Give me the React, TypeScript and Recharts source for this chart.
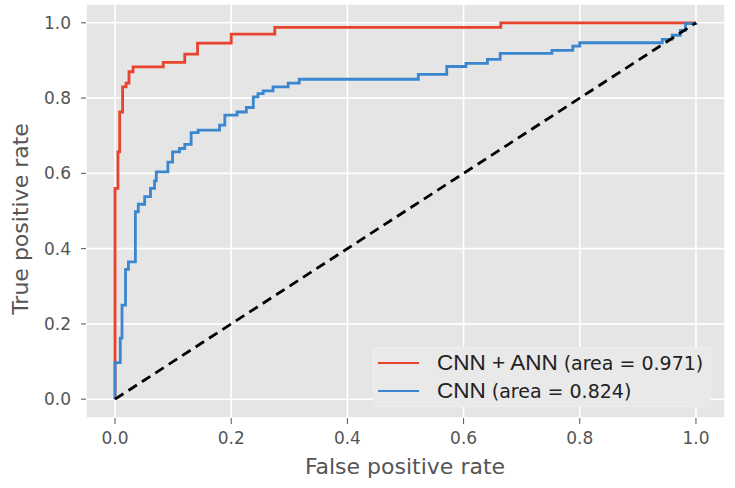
import { LineChart, Line, XAxis, YAxis, CartesianGrid, Legend } from "recharts";

if (typeof document !== "undefined") document.body.style.margin = "0";

// ROC points (fpr, tpr) – step corners
const cnnAnnFpr = [0, 0, 0.005, 0.008, 0.013, 0.019, 0.024, 0.031, 0.083, 0.12, 0.142, 0.2, 0.275, 0.664, 1];
const cnnAnnTpr = [0, 0.56, 0.657, 0.763, 0.83, 0.84, 0.87, 0.883, 0.895, 0.917, 0.946, 0.97, 0.988, 1, 1];

const cnnFpr = [
    0, 0, 0.009, 0.012, 0.018, 0.023, 0.035, 0.04, 0.051, 0.061, 0.068, 0.071, 0.091, 0.099,
    0.111, 0.12, 0.131, 0.143, 0.18, 0.189, 0.21, 0.226, 0.238, 0.246, 0.255, 0.272, 0.298,
    0.317, 0.522, 0.571, 0.604, 0.641, 0.663, 0.752, 0.788, 0.8, 0.942, 0.959, 0.973, 0.982, 1,
];
const cnnTpr = [
    0, 0.097, 0.162, 0.25, 0.345, 0.365, 0.498, 0.518, 0.538, 0.56, 0.58, 0.604, 0.63, 0.657,
    0.666, 0.677, 0.708, 0.715, 0.728, 0.755, 0.763, 0.775, 0.803, 0.812, 0.819, 0.83, 0.84,
    0.85, 0.863, 0.884, 0.892, 0.903, 0.919, 0.927, 0.938, 0.947, 0.956, 0.967, 0.98, 0.998, 1,
];

const chanceFpr = [0, 1];
const chanceTpr = [0, 1];

const modelNames = ["CNN + ANN", "CNN"];
const modelAucs = [0.971, 0.824];
const modelColors = ["#E8432E", "#3A86CF"];

const ticks = [0, 0.2, 0.4, 0.6, 0.8, 1.0];

const zip = (xs: number[], ys: number[]) => xs.map((x, i) => ({ x, y: ys[i] }));

const cnnAnnData = zip(cnnAnnFpr, cnnAnnTpr);
const cnnData = zip(cnnFpr, cnnTpr);
const chanceData = zip(chanceFpr, chanceTpr);

const tickStyle = { fill: "#555555", fontSize: 17, fontFamily: "DejaVu Sans" };
const labelFont = { fill: "#555555", fontSize: 22, fontFamily: "DejaVu Sans" };

function RocLegend() {
    return (
        <div
            style={{
                width: 338,
                height: 60,
                background: "#e9e9e9",
                border: "1px solid #efefef",
                borderRadius: 3,
                boxSizing: "border-box",
                paddingTop: 1,
            }}
        >
            {modelNames.map((name, i) => (
                <div key={name} style={{ display: "flex", alignItems: "center", height: 28, color: "#222" }}>
                    <div style={{ width: 41, height: 2, background: modelColors[i], marginLeft: 4, marginRight: 18 }} />
                    <span style={{ fontFamily: "Liberation Sans", fontSize: 22.5 }}>{name}</span>
                    <span style={{ fontFamily: "DejaVu Sans", fontSize: 19, marginLeft: 6 }}>
                        (area = {modelAucs[i].toFixed(3)})
                    </span>
                </div>
            ))}
        </div>
    );
}

export default function App() {
    return (
        <div style={{ width: 735, height: 488, background: "#fff", position: "relative" }}>
            <LineChart width={735} height={488} margin={{ top: 4, right: 10, left: 0, bottom: 0 }}>
                <CartesianGrid fill="#E5E5E5" stroke="#ffffff" strokeWidth={1.6} />
                <XAxis
                    type="number"
                    dataKey="x"
                    domain={[-0.05, 1.05]}
                    ticks={ticks}
                    tickFormatter={(v: number) => v.toFixed(1)}
                    axisLine={false}
                    tickLine={{ stroke: "#555555" }}
                    tickSize={6}
                    tickMargin={8}
                    height={70}
                    tick={tickStyle}
                    allowDataOverflow
                    label={{
                        content: () => (
                            <text x={405} y={474} textAnchor="middle" {...labelFont}>
                                False positive rate
                            </text>
                        ),
                    }}
                />
                <YAxis
                    type="number"
                    dataKey="y"
                    domain={[-0.05, 1.05]}
                    ticks={ticks}
                    tickFormatter={(v: number) => v.toFixed(1)}
                    axisLine={false}
                    tickLine={{ stroke: "#555555" }}
                    tickSize={5}
                    tickMargin={10}
                    width={86}
                    tick={tickStyle}
                    allowDataOverflow
                    label={{
                        content: () => (
                            <text
                                x={28}
                                y={219}
                                textAnchor="middle"
                                transform="rotate(-90 28 219)"
                                {...labelFont}
                            >
                                True positive rate
                            </text>
                        ),
                    }}
                />
                <Line
                    data={cnnAnnData}
                    dataKey="y"
                    type="stepAfter"
                    stroke={modelColors[0]}
                    strokeWidth={2.8}
                    dot={false}
                    activeDot={false}
                    isAnimationActive={false}
                />
                <Line
                    data={cnnData}
                    dataKey="y"
                    type="stepAfter"
                    stroke={modelColors[1]}
                    strokeWidth={2.8}
                    dot={false}
                    activeDot={false}
                    isAnimationActive={false}
                />
                <Line
                    data={chanceData}
                    dataKey="y"
                    type="linear"
                    stroke="#000000"
                    strokeWidth={2.8}
                    strokeDasharray="10 6"
                    dot={false}
                    activeDot={false}
                    isAnimationActive={false}
                />
                <Legend
                    layout="horizontal"
                    verticalAlign="middle"
                    align="center"
                    content={() => <RocLegend />}
                    wrapperStyle={{ position: "absolute", left: 373, top: 347, width: 338, height: 60 }}
                />
            </LineChart>
        </div>
    );
}
